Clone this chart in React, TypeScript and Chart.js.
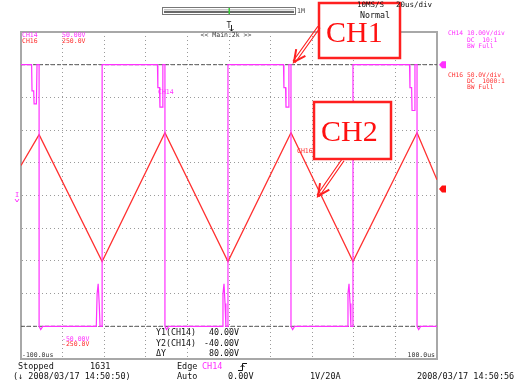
import React, { useEffect, useRef } from "react";
import { Chart, registerables } from "chart.js";

Chart.register(...registerables);

// ---- axis ranges / labels ----
const timeRangeUs = [-100, 100];
const timeStepUs = 20;
const ch14RangeV = [-50, 50];
const ch14StepV = 10;
const ch16RangeV = [-250, 250];
const timeRangeLabels = ["-100.0us", "100.0us"];
const ch14RangeLabels = ["50.00V", "-50.00V"];
const ch16RangeLabels = ["250.0V", "-250.0V"];

// ---- cursors ----
const cursorY1 = 40;
const cursorY2 = -40;
const cursorLabels = ["Y1(CH14)", "Y2(CH14)", "ΔY"];
const cursorValues = ["40.00V", "-40.00V", "80.00V"];

// ---- CH14 (square wave, V) ----
const ch14TimeUs = [
  -100, -94.9, -94.7, -93.9, -93.7, -92.6, -92.3, -91.3, -91.3, -90.5, -89.5,
  -63.8, -63.4, -62.9, -62.4, -62.0, -61.0, -61.0,
  -34.4, -34.2, -33.4, -33.2, -32.1, -31.8, -30.8, -30.8, -30.0, -29.0,
  -3.3, -2.9, -2.4, -1.9, -1.5, -0.5, -0.5,
  26.2, 26.4, 27.2, 27.4, 28.5, 28.8, 29.8, 29.8, 30.6, 31.6,
  56.8, 57.2, 57.7, 58.2, 58.6, 59.6, 59.6,
  86.8, 87.0, 87.8, 88.0, 89.1, 89.4, 90.4, 90.4, 91.2, 92.2,
  100,
];
const ch14Volts = [
  40, 40, 32, 32, 28, 28, 40, 40, -40, -41, -40,
  -40, -30, -27, -33, -40, -40, 40,
  40, 33, 33, 27, 27, 40, 40, -40, -41, -40,
  -40, -30, -27, -33, -40, -40, 40,
  40, 33, 33, 27, 27, 40, 40, -40, -41, -40,
  -40, -30, -27, -33, -40, -40, 40,
  40, 33, 33, 26, 26, 40, 40, -40, -41, -40,
  -40,
];

// ---- CH16 (triangle wave, V) ----
const ch16TimeUs = [-100, -91.3, -61.0, -30.8, -0.5, 29.8, 59.6, 90.4, 100];
const ch16Volts = [46, 93, -101, 96, -101, 96, -101, 96, 24];

const MAGENTA = "#ff30ff";
const RED = "#ff3030";
const GRID = "#9a9a9a";
const FRAME = "#a8a8a8";
const MONO = '"DejaVu Sans Mono", monospace';
const SERIF = '"Liberation Serif", "DejaVu Serif", serif';

const overlay = {
  id: "scopeOverlay",
  afterDraw(chart: any) {
    const ctx: CanvasRenderingContext2D = chart.ctx;
    const { left, right, top, bottom } = chart.chartArea;
    const sy = chart.scales.y;
    const sy2 = chart.scales.y2;
    ctx.save();
    const txt = (s: string, x: number, y: number, color: string, size: number, align: CanvasTextAlign = "left", font = MONO) => {
      ctx.font = `${size}px ${font}`;
      ctx.fillStyle = color;
      ctx.textAlign = align;
      ctx.textBaseline = "middle";
      ctx.fillText(s, x, y);
    };

    // top scrollbar
    ctx.strokeStyle = "#777";
    ctx.lineWidth = 1;
    ctx.strokeRect(162.5, 7.5, 133, 7);
    ctx.fillStyle = "#c8c8c8";
    ctx.fillRect(164, 9, 130, 1.5);
    ctx.fillStyle = "#6a6a6a";
    ctx.fillRect(164, 11, 130, 2);
    ctx.fillStyle = "#33cc33";
    ctx.fillRect(228.5, 8, 1.5, 6);
    txt("1M", 297, 11, "#444", 6.5);

    // trigger position marker
    txt("T", 229, 26, "#222", 8, "center");
    ctx.strokeStyle = "#222";
    ctx.beginPath();
    ctx.moveTo(231.5, 25);
    ctx.lineTo(231.5, 31);
    ctx.moveTo(229.5, 29);
    ctx.lineTo(231.5, 31);
    ctx.lineTo(233.5, 29);
    ctx.stroke();

    // in-plot labels top
    txt("CH14", left + 1, top + 3, MAGENTA, 6.5);
    txt(ch14RangeLabels[0], left + 41, top + 3, MAGENTA, 6.5);
    txt("CH16", left + 1, top + 9, RED, 6.5);
    txt(ch16RangeLabels[0], left + 41, top + 9, RED, 6.5);
    txt("<< Main:2k >>", 226, top + 3, "#333", 6.5, "center");

    // in-plot labels bottom
    txt(ch14RangeLabels[1], left + 41, bottom - 20, MAGENTA, 6.5);
    txt(ch16RangeLabels[1], left + 41, bottom - 15, RED, 6.5);
    txt(timeRangeLabels[0], left + 1, bottom - 4, "#333", 6.5);
    txt(timeRangeLabels[1], right - 2, bottom - 4, "#333", 6.5, "right");

    // trace labels
    txt("CH14", 158, 92, MAGENTA, 6.5);
    txt("CH16", 297, 151, RED, 6.5);

    // cursor readout
    for (let i = 0; i < cursorLabels.length; i++) {
      txt(cursorLabels[i], 156, 333 + i * 10.5, "#111", 8.3);
      txt(cursorValues[i], 239, 333 + i * 10.5, "#111", 8.3, "right");
    }

    // right markers
    const my = sy.getPixelForValue(cursorY1);
    ctx.fillStyle = MAGENTA;
    ctx.beginPath();
    ctx.moveTo(right + 2, my);
    ctx.lineTo(right + 5, my - 3.5);
    ctx.lineTo(right + 9, my - 3.5);
    ctx.lineTo(right + 9, my + 3.5);
    ctx.lineTo(right + 5, my + 3.5);
    ctx.closePath();
    ctx.fill();
    const ry = sy2.getPixelForValue(10);
    ctx.fillStyle = "#ff1010";
    ctx.beginPath();
    ctx.moveTo(right + 2, ry);
    ctx.lineTo(right + 5, ry - 3.5);
    ctx.lineTo(right + 9, ry - 3.5);
    ctx.lineTo(right + 9, ry + 3.5);
    ctx.lineTo(right + 5, ry + 3.5);
    ctx.closePath();
    ctx.fill();

    // left ground marker
    txt("I", 17, 195, MAGENTA, 7, "center");
    ctx.strokeStyle = MAGENTA;
    ctx.beginPath();
    ctx.moveTo(15, 199);
    ctx.lineTo(17, 202);
    ctx.lineTo(19, 199);
    ctx.stroke();

    // right channel panel
    txt("CH14 10.00V/div", 448, 33, MAGENTA, 6.3);
    txt("DC  10:1", 467, 40, MAGENTA, 6.3);
    txt("BW Full", 467, 46, MAGENTA, 6.3);
    txt("CH16 50.0V/div", 448, 75, RED, 6.3);
    txt("DC  1000:1", 467, 81, RED, 6.3);
    txt("BW Full", 467, 87, RED, 6.3);

    // bottom status
    txt("Stopped", 18, 367, "#111", 8.5);
    txt("1631", 90, 367, "#111", 8.5);
    txt("Edge", 177, 367, "#111", 8.5);
    txt("CH14", 202, 367, MAGENTA, 8.5);
    ctx.strokeStyle = "#111";
    ctx.lineWidth = 1;
    ctx.beginPath();
    ctx.moveTo(238, 370.5);
    ctx.lineTo(242.5, 370.5);
    ctx.lineTo(242.5, 363.5);
    ctx.lineTo(247, 363.5);
    ctx.moveTo(240.5, 367);
    ctx.lineTo(242.5, 365);
    ctx.lineTo(244.5, 367);
    ctx.stroke();
    txt("(↓ 2008/03/17 14:50:50)", 13, 377, "#111", 8.5);
    txt("Auto", 177, 377, "#111", 8.5);
    txt("0.00V", 228, 377, "#111", 8.5);
    txt("1V/20A", 310, 377, "#111", 8.5);
    txt("2008/03/17 14:50:56", 417, 377, "#111", 8.5);

    // annotation boxes
    const box = (x: number, y: number, w: number, h: number, label: string, tx: number, ty: number) => {
      ctx.fillStyle = "#ffffff";
      ctx.fillRect(x, y, w, h);
      ctx.strokeStyle = "#ff2020";
      ctx.lineWidth = 2.5;
      ctx.strokeRect(x, y, w, h);
      ctx.font = `30px ${SERIF}`;
      ctx.fillStyle = "#ff1010";
      ctx.textAlign = "left";
      ctx.textBaseline = "alphabetic";
      ctx.fillText(label, tx, ty);
    };
    const arrow = (x1: number, y1: number, x2: number, y2: number) => {
      const a = Math.atan2(y2 - y1, x2 - x1);
      const nx = -Math.sin(a) * 1.3;
      const ny = Math.cos(a) * 1.3;
      ctx.strokeStyle = "#ff2020";
      ctx.lineWidth = 1.2;
      ctx.beginPath();
      ctx.moveTo(x1 + nx, y1 + ny);
      ctx.lineTo(x2 + nx, y2 + ny);
      ctx.moveTo(x1 - nx, y1 - ny);
      ctx.lineTo(x2 - nx, y2 - ny);
      ctx.stroke();
      ctx.lineWidth = 2;
      ctx.beginPath();
      ctx.moveTo(x2 - 13 * Math.cos(a - 0.45), y2 - 13 * Math.sin(a - 0.45));
      ctx.lineTo(x2, y2);
      ctx.lineTo(x2 - 13 * Math.cos(a + 0.45), y2 - 13 * Math.sin(a + 0.45));
      ctx.stroke();
    };
    box(319, 3, 81, 55, "CH1", 326, 42);
    arrow(319, 27, 294, 62);
    box(314, 102, 77, 57, "CH2", 321, 141);
    arrow(343, 160, 318, 196);

    // top-right header (over box)
    txt("10MS/S", 357, 5, "#111", 7.5);
    txt("20us/div", 396, 5, "#111", 7.5);
    txt("Normal", 360, 16, "#111", 8.3);

    ctx.restore();
  },
};

export default function App() {
  const ref = useRef<HTMLCanvasElement | null>(null);
  useEffect(() => {
    if (!ref.current) return;
    const ch14 = ch14TimeUs.map((t, i) => ({ x: t, y: ch14Volts[i] }));
    const ch16 = ch16TimeUs.map((t, i) => ({ x: t, y: ch16Volts[i] }));
    const chart = new Chart(ref.current, {
      type: "line",
      data: {
        datasets: [
          {
            label: "CH14",
            data: ch14,
            borderColor: MAGENTA,
            borderWidth: 1.2,
            pointRadius: 0,
            tension: 0,
            yAxisID: "y",
          },
          {
            label: "CH16",
            data: ch16,
            borderColor: RED,
            borderWidth: 1.3,
            pointRadius: 0,
            tension: 0,
            yAxisID: "y2",
          },
          {
            label: "Y1",
            data: [{ x: timeRangeUs[0], y: cursorY1 }, { x: timeRangeUs[1], y: cursorY1 }],
            borderColor: "#555",
            borderWidth: 1,
            borderDash: [4, 2],
            pointRadius: 0,
            yAxisID: "y",
          },
          {
            label: "Y2",
            data: [{ x: timeRangeUs[0], y: cursorY2 }, { x: timeRangeUs[1], y: cursorY2 }],
            borderColor: "#555",
            borderWidth: 1,
            borderDash: [4, 2],
            pointRadius: 0,
            yAxisID: "y",
          },
        ],
      },
      options: {
        responsive: false,
        animation: false,
        layout: { padding: { left: 21, right: 88, top: 32, bottom: 26 } },
        plugins: { legend: { display: false }, tooltip: { enabled: false } },
        scales: {
          x: {
            type: "linear",
            min: timeRangeUs[0],
            max: timeRangeUs[1],
            ticks: { display: false, stepSize: timeStepUs },
            grid: { color: GRID, lineWidth: 1, drawTicks: false },
            border: { display: true, color: FRAME, width: 2, dash: [1, 3] },
          },
          x2: {
            type: "linear",
            position: "top",
            min: timeRangeUs[0],
            max: timeRangeUs[1],
            ticks: { display: false },
            grid: { display: false, drawTicks: false },
            border: { display: true, color: FRAME, width: 2 },
          },
          y: {
            type: "linear",
            min: ch14RangeV[0],
            max: ch14RangeV[1],
            ticks: { display: false, stepSize: ch14StepV },
            grid: { color: GRID, lineWidth: 1, drawTicks: false },
            border: { display: true, color: FRAME, width: 2, dash: [1, 3] },
          },
          y2: {
            type: "linear",
            position: "right",
            min: ch16RangeV[0],
            max: ch16RangeV[1],
            ticks: { display: false },
            grid: { display: false, drawTicks: false },
            border: { display: true, color: FRAME, width: 2 },
          },
        },
      },
      plugins: [overlay],
    });
    return () => chart.destroy();
  }, []);
  return (
    <div style={{ position: "fixed", left: 0, top: 0, width: 525, height: 385, background: "#fff" }}>
      <canvas ref={ref} width={525} height={385} style={{ width: 525, height: 385, display: "block" }} />
    </div>
  );
}
